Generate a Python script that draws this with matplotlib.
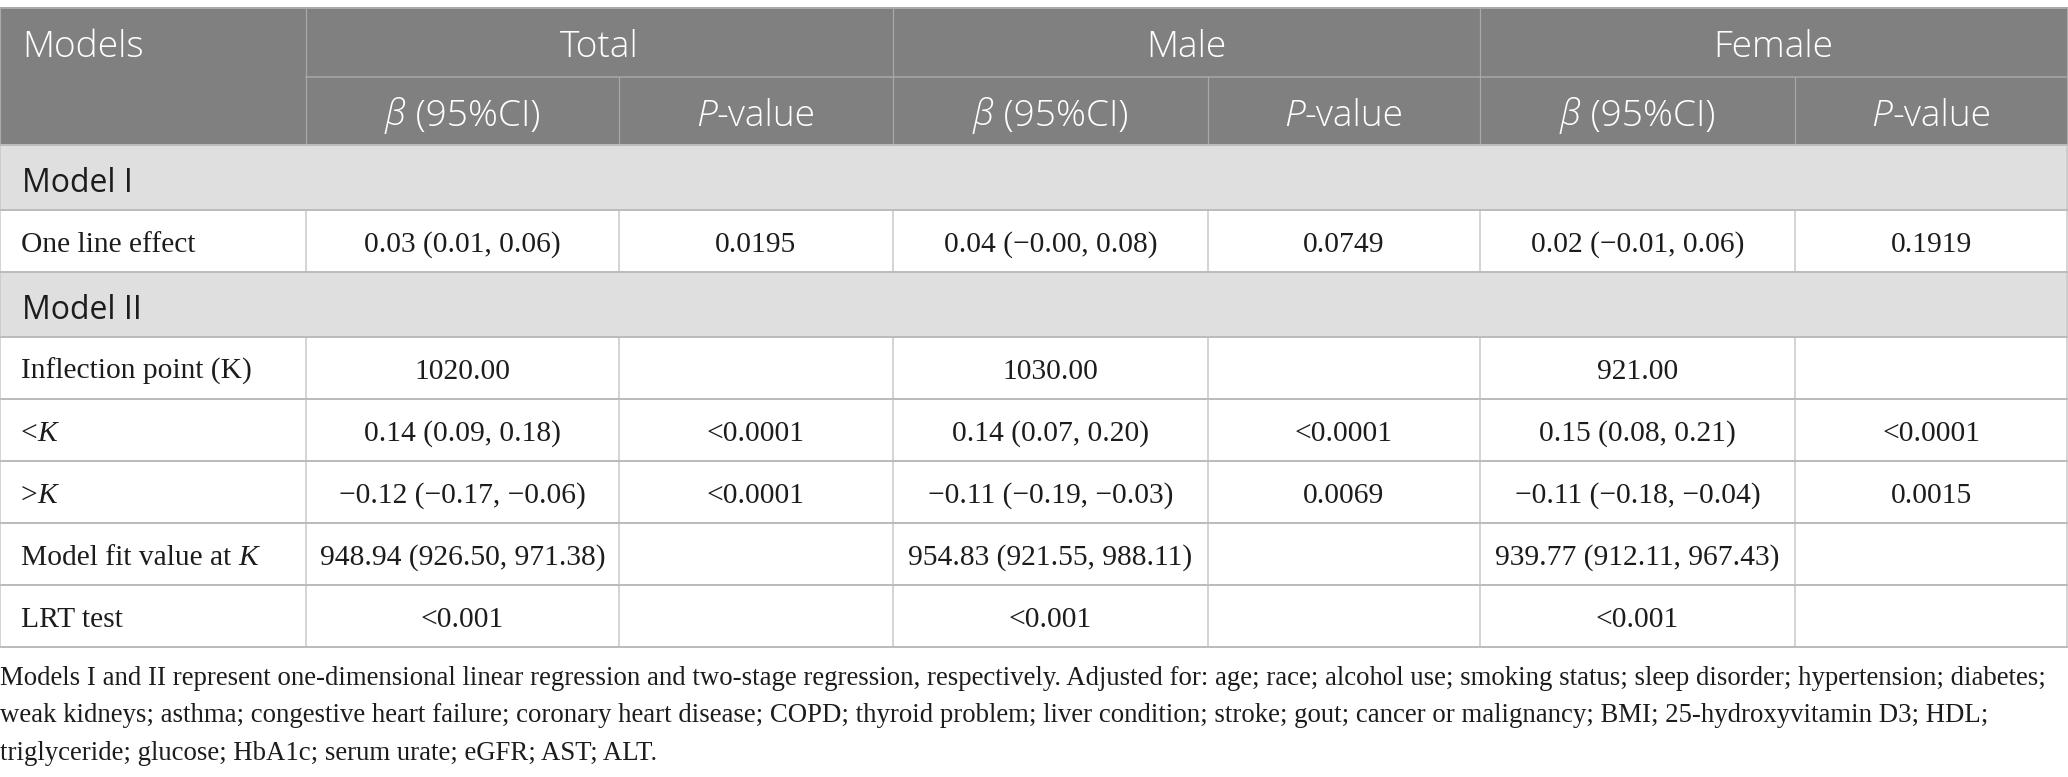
import matplotlib
matplotlib.use("Agg")
import matplotlib.pyplot as plt
from matplotlib.patches import Rectangle

# ---------------- data ----------------
groups = ["Total", "Male", "Female"]
sub_headers = [[("β", True), (" (95%CI)", False)], [("P", True), ("-value", False)]]
band_labels = ["Model I", "Model II"]
row_labels = [
    [("One line effect", False)],
    [("Inflection point (K)", False)],
    [("<", False), ("K", True)],
    [(">", False), ("K", True)],
    [("Model fit value at ", False), ("K", True)],
    [("LRT test", False)],
]
beta_total = ["0.03 (0.01, 0.06)", "1020.00", "0.14 (0.09, 0.18)", "−0.12 (−0.17, −0.06)",
              "948.94 (926.50, 971.38)", "<0.001"]
p_total = ["0.0195", "", "<0.0001", "<0.0001", "", ""]
beta_male = ["0.04 (−0.00, 0.08)", "1030.00", "0.14 (0.07, 0.20)", "−0.11 (−0.19, −0.03)",
             "954.83 (921.55, 988.11)", "<0.001"]
p_male = ["0.0749", "", "<0.0001", "0.0069", "", ""]
beta_female = ["0.02 (−0.01, 0.06)", "921.00", "0.15 (0.08, 0.21)", "−0.11 (−0.18, −0.04)",
               "939.77 (912.11, 967.43)", "<0.001"]
p_female = ["0.1919", "", "<0.0001", "0.0015", "", ""]
footnote = [
    "Models I and II represent one-dimensional linear regression and two-stage regression, respectively. Adjusted for: age; race; alcohol use; smoking status; sleep disorder; hypertension; diabetes;",
    "weak kidneys; asthma; congestive heart failure; coronary heart disease; COPD; thyroid problem; liver condition; stroke; gout; cancer or malignancy; BMI; 25-hydroxyvitamin D3; HDL;",
    "triglyceride; glucose; HbA1c; serum urate; eGFR; AST; ALT.",
]

# ---------------- layout (pixels) ----------------
W, H = 2068, 777
col_edges = [0, 306, 619, 893, 1208, 1480, 1795, 2067]
y_top = 8
row_h = [69, 68, 65, 62, 65, 62, 62, 62, 62, 62]  # hdr1, hdr2, band1, row0, band2, rows1-5
kinds = ["h1", "h2", "band", "row", "band", "row", "row", "row", "row", "row"]
edges = [y_top]
for h in row_h:
    edges.append(edges[-1] + h)

HEAD_BG = "#7f807f"
BAND_BG = "#e0dfe0"
HEAD_LINE = "#a9a9a9"
BODY_VLINE = "#c8c8c8"
BODY_HLINE = "#bcbcbc"
TXT = "#1c1c1c"
SANS = "Open Sans"
SERIF = "Liberation Serif"
HEAD_W = "light"

fig = plt.figure(figsize=(W / 100, H / 100), dpi=100)
ax = fig.add_axes([0, 0, 1, 1])
ax.set_xlim(0, W)
ax.set_ylim(H, 0)
ax.axis("off")
renderer = fig.canvas.get_renderer()


def twidth(s, size, family, italic=False, weight="normal"):
    kw = dict(fontsize=size, family=family, style="italic" if italic else "normal", weight=weight)
    t1 = ax.text(0, 0, "|" + s + "|", **kw)
    t2 = ax.text(0, 0, "||", **kw)
    w = t1.get_window_extent(renderer).width - t2.get_window_extent(renderer).width
    t1.remove(); t2.remove()
    return w


def fit(s, family, target, weight="normal"):
    return 100 * target / twidth(s, 100, family, weight=weight)


def runs_text(x, y, runs, size, family, color, ha="center", weight="normal"):
    widths = [twidth(s, size, family, it, weight) for s, it in runs]
    total = sum(widths)
    x0 = x - total / 2 if ha == "center" else x
    for (s, it), w in zip(runs, widths):
        ax.text(x0, y, s, fontsize=size, family=family, style="italic" if it else "normal",
                weight=weight, color=color, ha="left", va="baseline")
        x0 += w


head_size = fit("Models", SANS, 122, HEAD_W)
band_size = fit("Model I", SANS, 111)
body_size = fit("948.94 (926.50, 971.38)", SERIF, 269) * 1.06
foot_size = fit(footnote[0], SERIF, 2040)

# backgrounds
ax.add_patch(Rectangle((0, edges[0]), W, edges[2] - edges[0], color=HEAD_BG, lw=0, zorder=0))
for i, k in enumerate(kinds):
    if k == "band":
        ax.add_patch(Rectangle((0, edges[i]), W, row_h[i], color=BAND_BG, lw=0, zorder=0))

# lines
px = 0.72
ax.plot([0, W], [edges[0], edges[0]], color=HEAD_LINE, lw=2 * px, zorder=2)
ax.plot([col_edges[1], W], [edges[1], edges[1]], color=HEAD_LINE, lw=1.5 * px, zorder=2)
for xe in col_edges[1::2][:3] + [col_edges[0], col_edges[-1]]:
    ax.plot([xe, xe], [edges[0], edges[2]], color=HEAD_LINE, lw=1.2 * px, zorder=2)
for xe in col_edges[2:-1:2]:
    ax.plot([xe, xe], [edges[1], edges[2]], color=HEAD_LINE, lw=1.2 * px, zorder=2)
for i in range(2, len(kinds) + 1):
    ax.plot([0, W], [edges[i], edges[i]], color=BODY_HLINE, lw=2 * px, zorder=3)
for i, k in enumerate(kinds):
    if k == "row":
        for xe in col_edges:
            ax.plot([xe, xe], [edges[i], edges[i + 1]], color=BODY_VLINE, lw=1.5 * px, zorder=2)
    if k == "band":
        for xe in (col_edges[0], col_edges[-1]):
            ax.plot([xe, xe], [edges[i], edges[i + 1]], color=BODY_VLINE, lw=1.5 * px, zorder=2)

# header text
c1 = (edges[0] + edges[1]) / 2 + 14.5
c2 = (edges[1] + edges[2]) / 2 + 14.5
ax.text(22, c1, "Models", fontsize=head_size, family=SANS, weight=HEAD_W, color="white",
        ha="left", va="baseline")
for g, name in enumerate(groups):
    xl, xr = col_edges[1 + 2 * g], col_edges[3 + 2 * g]
    ax.text((xl + xr) / 2, c1, name, fontsize=head_size, family=SANS, weight=HEAD_W,
            color="white", ha="center", va="baseline")
    for j in range(2):
        xc = (col_edges[1 + 2 * g + j] + col_edges[2 + 2 * g + j]) / 2
        runs_text(xc, c2, sub_headers[j], head_size, SANS, "white", weight=HEAD_W)

# body
cols = [beta_total, p_total, beta_male, p_male, beta_female, p_female]
band_i = 0
row_i = 0
for i, k in enumerate(kinds):
    yc = (edges[i] + edges[i + 1]) / 2
    if k == "band":
        ax.text(22, yc + 14.5, band_labels[band_i], fontsize=band_size, family=SANS, color=TXT,
                ha="left", va="baseline")
        band_i += 1
    elif k == "row":
        yb = yc + 11
        runs_text(21, yb, row_labels[row_i], body_size, SERIF, TXT, ha="left")
        for c, vals in enumerate(cols):
            s = vals[row_i]
            if s:
                xc = (col_edges[1 + c] + col_edges[2 + c]) / 2
                ax.text(xc, yb, s, fontsize=body_size, family=SERIF, color=TXT,
                        ha="center", va="baseline")
        row_i += 1

# footnote
foot_y = [685, 722.5, 760]
for s, yb in zip(footnote, foot_y):
    ax.text(0, yb, s, fontsize=foot_size, family=SERIF, color=TXT, ha="left", va="baseline")

fig.savefig("out.png", dpi=100)
